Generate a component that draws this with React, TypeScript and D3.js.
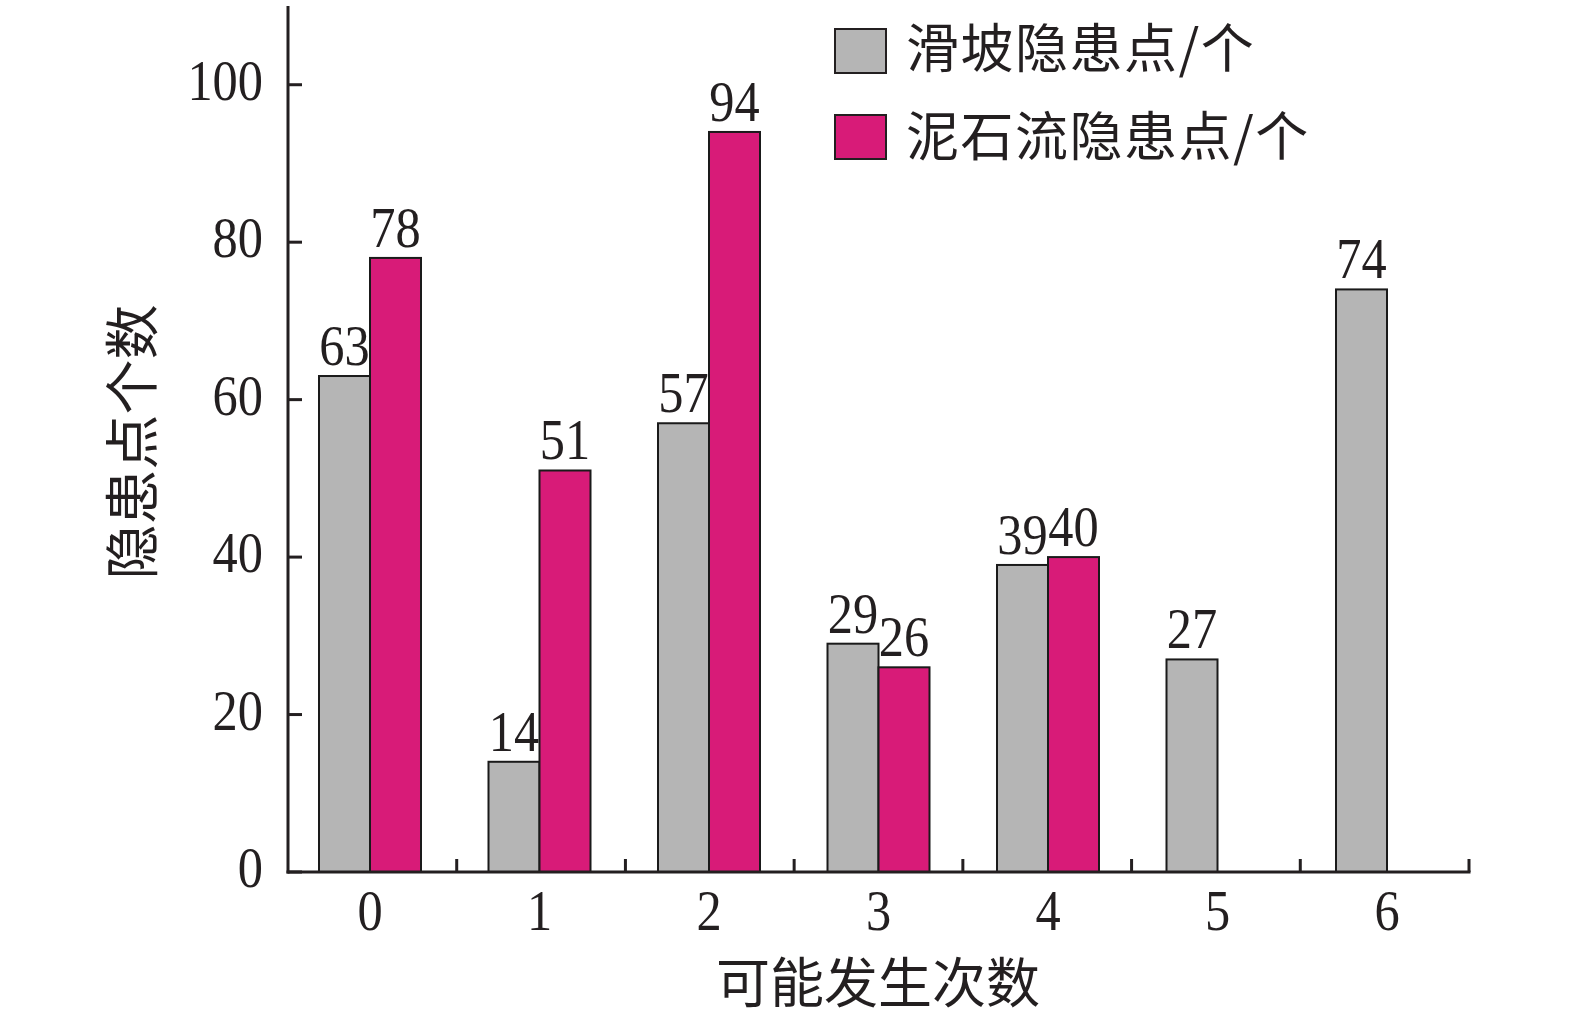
import React from "react";
import * as d3 from "d3";

const categories = ["0", "1", "2", "3", "4", "5", "6"];
const seriesNames = ["滑坡隐患点/个", "泥石流隐患点/个"];
const landslide: (number | null)[] = [63, 14, 57, 29, 39, 27, 74];
const debrisFlow: (number | null)[] = [78, 51, 94, 26, 40, null, null];
const yTicks = [0, 20, 40, 60, 80, 100];
const colors = ["#b5b5b5", "#d81b78"];
const xTitle = "可能发生次数";
const yTitle = "隐患点个数";

const W = 1575, H = 1020;
const M = { left: 288, right: 1469, top: 6, bottom: 872 };
const serif = "'Liberation Serif', 'Times New Roman', serif";
const cjk = "'Noto Sans CJK SC', sans-serif";
const ink = "#231f20";

function Num({ x, y, anchor, children }: { x: number; y: number; anchor: string; children: any }) {
  return (
    <g transform={`translate(${x},${y}) scale(0.9,1)`}>
      <text x={0} y={0} textAnchor={anchor as any} fontFamily={serif} fontSize={56} fill={ink}>
        {children}
      </text>
    </g>
  );
}

export default function App() {
  const x = d3.scaleBand<string>().domain(categories).range([M.left, M.right]);
  const y = d3.scaleLinear().domain([0, 110]).range([M.bottom, M.top]);
  const bw = 51;
  // group left edges (bars drift slightly from the tick bands in the original)
  const gx = d3.scalePoint<string>().domain(categories).range([319, 1336]);
  const series = [landslide, debrisFlow];
  const sub = d3.scaleBand<number>().domain([0, 1]).range([0, 2 * bw]);

  return (
    <svg width={W} height={H} style={{ position: "absolute", left: 0, top: 0, background: "#fff" }}>
      {series.map((vals, si) =>
        vals.map((v, ci) => {
          if (v == null) return null;
          const bx = (gx(categories[ci]) as number) + (sub(si) as number);
          return (
            <g key={`b${si}-${ci}`}>
              <rect x={bx} y={y(v)} width={bw} height={y(0) - y(v)} fill={colors[si]} stroke="#1a1a1a" strokeWidth={2} />
              <Num x={bx + bw / 2} y={y(v) - 11} anchor="middle">
                {v}
              </Num>
            </g>
          );
        })
      )}
      {/* axes */}
      <line x1={M.left} x2={M.left} y1={M.top} y2={M.bottom + 1.5} stroke={ink} strokeWidth={3} />
      <line x1={M.left - 1.5} x2={M.right + 1.5} y1={M.bottom} y2={M.bottom} stroke={ink} strokeWidth={3} />
      {yTicks.map((t) => (
        <g key={`yt${t}`}>
          <line x1={M.left} x2={M.left + 14} y1={y(t)} y2={y(t)} stroke={ink} strokeWidth={3} />
          <Num x={M.left - 25} y={y(t) + 15} anchor="end">
            {t}
          </Num>
        </g>
      ))}
      {categories.map((c, i) => (
        <g key={`xt${c}`}>
          {i > 0 && <line x1={x(c) as number} x2={x(c) as number} y1={M.bottom} y2={M.bottom - 13} stroke={ink} strokeWidth={3} />}
          <Num x={(gx(c) as number) + bw} y={930} anchor="middle">
            {c}
          </Num>
        </g>
      ))}
      <line x1={M.right} x2={M.right} y1={M.bottom} y2={M.bottom - 13} stroke={ink} strokeWidth={3} />
      {/* titles */}
      <text x={878} y={1003} textAnchor="middle" fontFamily={cjk} fontSize={54} fill={ink}>
        {xTitle}
      </text>
      <text transform="translate(152,442) rotate(-90)" textAnchor="middle" fontFamily={cjk} fontSize={55} fill={ink}>
        {yTitle}
      </text>
      {/* legend */}
      {seriesNames.map((n, i) => (
        <g key={`lg${i}`}>
          <rect x={835} y={29 + i * 86} width={51} height={44} fill={colors[i]} stroke={ink} strokeWidth={2} />
          <text x={906} y={68 + i * 88} fontFamily={cjk} fontSize={53} letterSpacing={1.5} fill={ink}>
            {n}
          </text>
        </g>
      ))}
    </svg>
  );
}
